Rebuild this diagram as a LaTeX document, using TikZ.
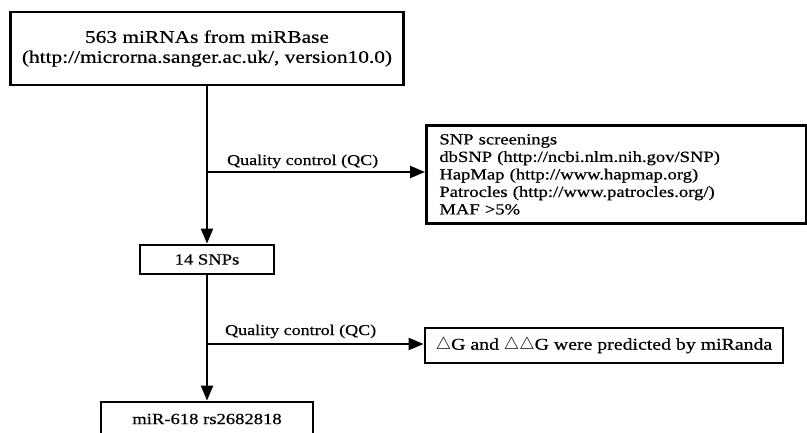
\documentclass[tikz,border=0pt]{standalone}
\usepackage{fontspec}
\setmainfont{Liberation Serif}[FakeStretch=1.2,FakeBold=0.6]
\usepackage{tikz}
\usetikzlibrary{arrows.meta,positioning}

\begin{document}
\begin{tikzpicture}
  [
  x=1pt,y=-1pt,
  box/.style={rectangle,draw=black,line width=2.8pt,inner sep=0pt,font=\fontsize{15.5}{17.5}\selectfont},
  flow/.style={-{Triangle[length=15pt,width=12pt]},line width=2.2pt},
  qclabel/.style={anchor=base west,inner sep=0pt,font=\fontsize{15}{17.5}\selectfont}
  ]
  \useasboundingbox (0,0) rectangle (807,432);
  \node[box,minimum width=393pt,minimum height=73pt,align=center,
    font=\fontsize{17.8}{20}\selectfont] (mirbase) at (207,48.5)
    {563 miRNAs from miRBase\\(http://microrna.sanger.ac.uk/, version10.0)};
  \node[box,minimum width=134pt,minimum height=29pt] (snps) at (207,259.5) {14 SNPs};
  \node[box,minimum width=212pt,minimum height=34pt] (final) at (207,419) {miR-618 rs2682818};
  \node[box,anchor=north west,minimum height=98pt,text width=354pt,inner xsep=13pt,
    align=left] (screening) at (425,124)
    {SNP screenings\\
     dbSNP (http://ncbi.nlm.nih.gov/SNP)\\
     HapMap (http://www.hapmap.org)\\
     Patrocles (http://www.patrocles.org/)\\
     MAF >5\%};
  \node[box,minimum width=358pt,minimum height=35pt,font=\fontsize{16.5}{18}\selectfont]
    (miranda) at (604,345.5)
    {$\triangle$G and $\triangle\triangle$G were predicted by miRanda};
  % branch points of the QC steps
  \coordinate (qc1) at (207,172);
  \coordinate (qc2) at (207,344);
  \node[qclabel] (qc1 label) at (227,165) {Quality control (QC)};
  \node[qclabel] (qc2 label) at (225,335) {Quality control (QC)};
  \draw[flow] (mirbase.south) -- (snps.north);
  \draw[flow] (snps.south) -- (final.north);
  \draw[flow] (qc1) -- (qc1 -| screening.west);
  \draw[flow] (qc2) -- (qc2 -| miranda.west);
\end{tikzpicture}
\end{document}
